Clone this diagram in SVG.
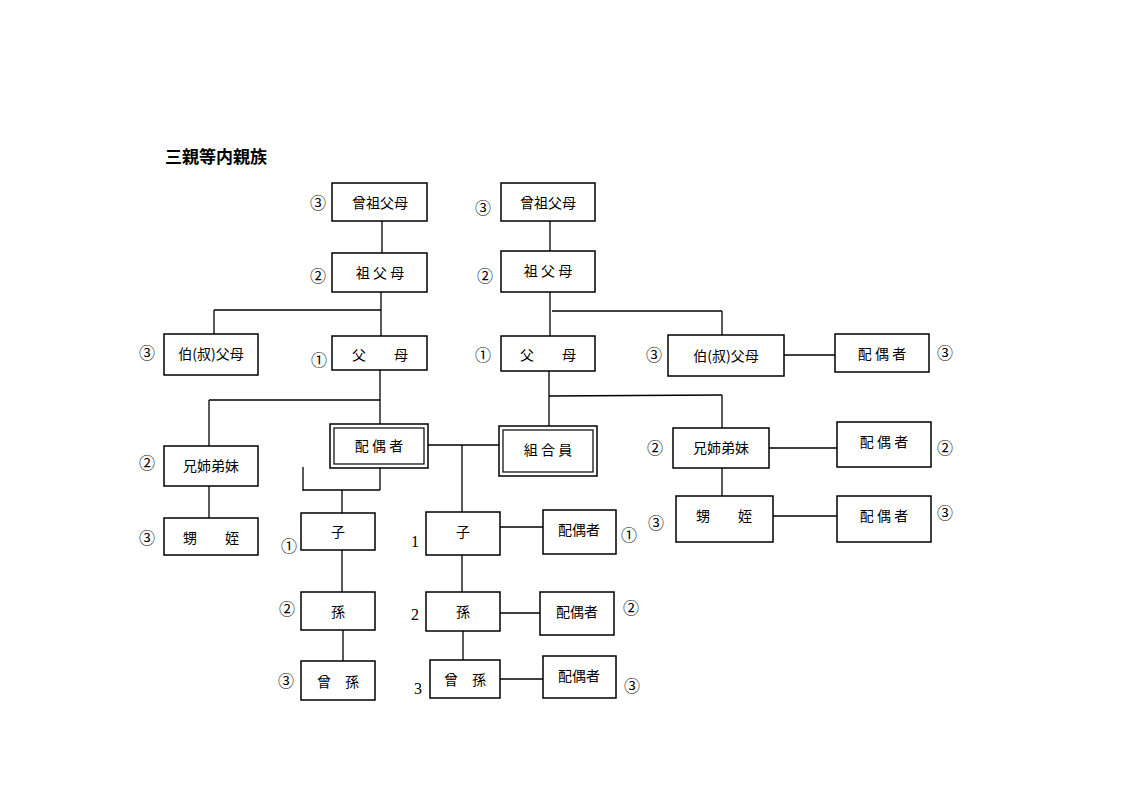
<svg xmlns="http://www.w3.org/2000/svg" width="1123" height="794" viewBox="0 0 1123 794">
<style>
.b{fill:#fff;stroke:#000;stroke-width:1.5}
.d{fill:none;stroke:#000;stroke-width:1.2}
text{font-family:"Noto Sans CJK JP","Liberation Serif",serif;font-size:14px;fill:#000;dominant-baseline:central}
.t{text-anchor:middle}
.n{font-family:"Liberation Serif","Noto Sans CJK JP",serif;font-size:16px;text-anchor:middle}
#conn line{stroke:#000;stroke-width:1.3}
</style>
<rect width="1123" height="794" fill="#fff"/>
<text x="165" y="155" style="font-size:17px;font-weight:bold">三親等内親族</text>
<g id="conn">
<line x1="382" y1="221" x2="382" y2="253"/><line x1="550" y1="221" x2="550" y2="251"/>
<line x1="381" y1="292" x2="381" y2="336"/><line x1="214" y1="310" x2="381" y2="310"/><line x1="214" y1="310" x2="214" y2="334"/>
<line x1="550" y1="292" x2="550" y2="336"/><line x1="552" y1="311" x2="722" y2="311"/><line x1="722" y1="311" x2="722" y2="335"/>
<line x1="784" y1="355" x2="835" y2="355"/>
<line x1="380" y1="370" x2="380" y2="424"/><line x1="209" y1="400" x2="380" y2="400"/><line x1="209" y1="400" x2="209" y2="446"/>
<line x1="209" y1="486" x2="209" y2="518"/>
<line x1="549" y1="371" x2="549" y2="426"/><line x1="549" y1="396" x2="722" y2="395"/><line x1="722" y1="395" x2="722" y2="428"/>
<line x1="769" y1="448" x2="837" y2="448"/><line x1="773" y1="516" x2="837" y2="516"/><line x1="722" y1="468" x2="722" y2="496"/>
<line x1="428" y1="445" x2="499" y2="445"/><line x1="462" y1="445" x2="462" y2="512"/>
<line x1="380" y1="468" x2="380" y2="490"/><line x1="303" y1="490" x2="380" y2="490"/><line x1="303" y1="467" x2="303" y2="491"/>
<line x1="342" y1="490" x2="342" y2="513"/>
<line x1="342" y1="550" x2="342" y2="592"/><line x1="343" y1="630" x2="343" y2="661"/>
<line x1="500" y1="527" x2="543" y2="527"/><line x1="462" y1="555" x2="462" y2="592"/>
<line x1="500" y1="613" x2="540" y2="613"/><line x1="463" y1="631" x2="463" y2="660"/>
<line x1="500" y1="679" x2="543" y2="679"/>
</g>
<g id="n1"><rect class="b" x="332" y="183" width="95" height="38"/><text class="t" x="380" y="202">曾祖父母</text><text class="n" x="318" y="203">③</text></g>
<g id="n2"><rect class="b" x="501" y="183" width="94" height="38"/><text class="t" x="548" y="202">曾祖父母</text><text class="n" x="483" y="208">③</text></g>
<g id="n3"><rect class="b" x="332" y="253" width="95" height="39"/><text class="t" x="380" y="272">祖 父 母</text><text class="n" x="318" y="276">②</text></g>
<g id="n4"><rect class="b" x="501" y="251" width="94" height="41"/><text class="t" x="548" y="270">祖 父 母</text><text class="n" x="485" y="276">②</text></g>
<g id="n5"><rect class="b" x="164" y="334" width="94" height="41"/><text class="t" x="211" y="353">伯(叔)父母</text><text class="n" x="147" y="353">③</text></g>
<g id="n6"><rect class="b" x="332" y="336" width="95" height="34"/><text class="t" x="380" y="354">父　　母</text><text class="n" x="319" y="360">①</text></g>
<g id="n7"><rect class="b" x="501" y="336" width="94" height="35"/><text class="t" x="548" y="354">父　　母</text><text class="n" x="483" y="355">①</text></g>
<g id="n8"><rect class="b" x="668" y="335" width="116" height="41"/><text class="t" x="726" y="355">伯(叔)父母</text><text class="n" x="654" y="355">③</text></g>
<g id="n9"><rect class="b" x="835" y="334" width="94" height="38"/><text class="t" x="882" y="353">配 偶 者</text><text class="n" x="945" y="353">③</text></g>
<g id="n10"><rect class="b" x="330" y="424" width="98" height="44"/><rect class="d" x="334" y="428" width="90" height="36"/><text class="t" x="379" y="445">配 偶 者</text></g>
<g id="n11"><rect class="b" x="499" y="426" width="98" height="50"/><rect class="d" x="503" y="430" width="90" height="42"/><text class="t" x="548" y="449">組 合 員</text></g>
<g id="n12"><rect class="b" x="164" y="446" width="94" height="40"/><text class="t" x="211" y="465">兄姉弟妹</text><text class="n" x="147" y="463">②</text></g>
<g id="n13"><rect class="b" x="164" y="518" width="94" height="37"/><text class="t" x="211" y="537">甥　　姪</text><text class="n" x="147" y="538">③</text></g>
<g id="n14"><rect class="b" x="673" y="428" width="96" height="40"/><text class="t" x="721" y="447">兄姉弟妹</text><text class="n" x="655" y="448">②</text></g>
<g id="n15"><rect class="b" x="837" y="422" width="94" height="45"/><text class="t" x="884" y="441">配 偶 者</text><text class="n" x="945" y="448">②</text></g>
<g id="n16"><rect class="b" x="676" y="496" width="97" height="46"/><text class="t" x="724" y="515">甥　　姪</text><text class="n" x="656" y="523">③</text></g>
<g id="n17"><rect class="b" x="837" y="496" width="94" height="46"/><text class="t" x="884" y="515">配 偶 者</text><text class="n" x="945" y="513">③</text></g>
<g id="n18"><rect class="b" x="301" y="513" width="74" height="37"/><text class="t" x="338" y="531">子</text><text class="n" x="289" y="546">①</text></g>
<g id="n19"><rect class="b" x="301" y="592" width="74" height="38"/><text class="t" x="338" y="611">孫</text><text class="n" x="287" y="609">②</text></g>
<g id="n20"><rect class="b" x="301" y="661" width="74" height="39"/><text class="t" x="338" y="681">曾　孫</text><text class="n" x="286" y="681">③</text></g>
<g id="n21"><rect class="b" x="426" y="512" width="74" height="43"/><text class="t" x="463" y="531">子</text><text class="n" x="415" y="541">1</text></g>
<g id="n22"><rect class="b" x="426" y="592" width="74" height="39"/><text class="t" x="463" y="611">孫</text><text class="n" x="415" y="614">2</text></g>
<g id="n23"><rect class="b" x="430" y="660" width="70" height="38"/><text class="t" x="465" y="679">曾　孫</text><text class="n" x="418" y="688">3</text></g>
<g id="n24"><rect class="b" x="543" y="510" width="73" height="44"/><text class="t" x="579" y="529">配偶者</text><text class="n" x="629" y="535">①</text></g>
<g id="n25"><rect class="b" x="540" y="592" width="74" height="43"/><text class="t" x="577" y="611">配偶者</text><text class="n" x="631" y="608">②</text></g>
<g id="n26"><rect class="b" x="543" y="656" width="73" height="42"/><text class="t" x="579" y="675">配偶者</text><text class="n" x="632" y="686">③</text></g>
</svg>
